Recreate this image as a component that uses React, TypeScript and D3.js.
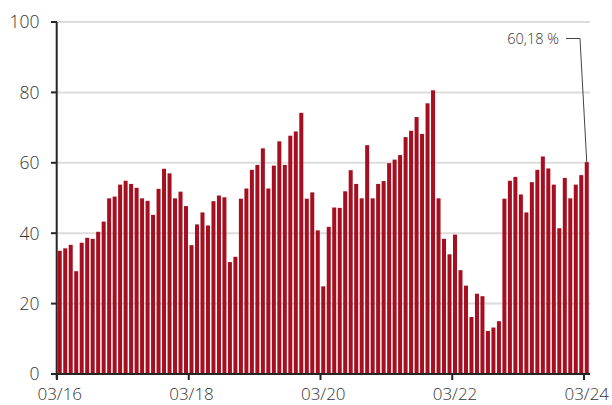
import React from "react";
import * as d3 from "d3";

const months: string[] = d3
  .timeMonth.range(new Date(2016, 2, 1), new Date(2024, 3, 1))
  .map((d) => d3.timeFormat("%m/%y")(d));

const values: number[] = [
  35.0, 35.7, 36.7, 29.2, 37.3, 38.7, 38.4, 40.4, 43.3, 49.9, 50.4, 53.8,
  54.9, 54.0, 52.9, 49.9, 49.2, 45.2, 52.6, 58.3, 57.0, 49.9, 51.8, 47.7,
  36.6, 42.5, 45.9, 42.2, 49.1, 50.7, 50.2, 31.8, 33.3, 49.8, 52.7, 58.0,
  59.4, 64.1, 52.7, 59.2, 66.1, 59.4, 67.7, 68.9, 74.2, 49.8, 51.6, 40.8,
  24.9, 41.8, 47.3, 47.2, 51.9, 57.9, 54.0, 49.9, 65.0, 49.9, 54.0, 54.8,
  59.9, 60.9, 62.2, 67.3, 69.1, 73.0, 68.2, 76.9, 80.6, 49.9, 38.4, 34.0,
  39.6, 29.5, 25.1, 16.2, 22.8, 22.1, 12.2, 13.2, 15.0, 49.8, 54.9, 56.0,
  51.0, 45.9, 54.5, 58.0, 61.8, 58.4, 53.8, 41.4, 55.7, 49.9, 53.8, 56.5,
  60.18,
];

const yTicks: number[] = [0, 20, 40, 60, 80, 100];
const xTickLabels: string[] = ["03/16", "03/18", "03/20", "03/22", "03/24"];
const annotationText = "60,18 %";

export default function App() {
  const W = 612;
  const H = 405;
  const left = 57;
  const right = 589.5;
  const top = 22;
  const bottom = 374;

  const x = d3
    .scaleBand<string>()
    .domain(months)
    .range([left, right])
    .paddingInner(0.27)
    .paddingOuter(0.135);
  const y = d3.scaleLinear().domain([0, 100]).range([bottom, top]);
  const step = x.step();
  const bw = x.bandwidth();
  const stepStart = (m: string) => (x(m) as number) + bw / 2 - step / 2;
  const center = (m: string) => (x(m) as number) + bw / 2;

  const font = "'Open Sans', sans-serif";
  const lastM = months[months.length - 1];
  const lastV = values[values.length - 1];

  return (
    <svg
      width={W}
      height={H}
      style={{ position: "absolute", left: 0, top: 0 }}
      fontFamily={font}
    >
      {yTicks
        .filter((t) => t > 0)
        .map((t) => (
          <line
            key={"g" + t}
            x1={left}
            x2={590}
            y1={y(t)}
            y2={y(t)}
            stroke="#dcdcdc"
            strokeWidth={2}
          />
        ))}
      {values.map((v, i) => (
        <rect
          key={i}
          x={x(months[i])}
          y={y(v)}
          width={bw}
          height={bottom - y(v)}
          fill="#a50f1f"
        />
      ))}
      <line x1={left - 0.3} x2={left - 0.3} y1={top} y2={bottom + 5} stroke="#262626" strokeWidth={2} />
      {yTicks.map((t) => (
        <g key={"y" + t}>
          <line x1={51} x2={left} y1={y(t)} y2={y(t)} stroke="#262626" strokeWidth={2} />
          <text
            x={39.5}
            y={y(t)}
            dy="0.36em"
            textAnchor="end"
            fontSize={17.5}
            fontWeight={300}
            fill="#333"
          >
            {t}
          </text>
        </g>
      ))}
      <line x1={left} x2={590} y1={bottom} y2={bottom} stroke="#262626" strokeWidth={2} />
      {xTickLabels.map((lab) => {
        const m = months.find((mm) => mm === lab) as string;
        return (
          <g key={"x" + lab}>
            <line
              x1={stepStart(m)}
              x2={stepStart(m)}
              y1={bottom}
              y2={bottom + 6}
              stroke="#262626"
              strokeWidth={2}
            />
            <text
              x={center(m)}
              y={400}
              textAnchor="middle"
              fontSize={17}
              fontWeight={300}
              fill="#333"
            >
              {lab}
            </text>
          </g>
        );
      })}
      <text x={559} y={43.5} textAnchor="end" fontSize={14.5} fontWeight={300} fill="#333">
        {annotationText}
      </text>
      <polyline
        points={`566,38.5 580,38.5 ${center(lastM)},${y(lastV)}`}
        fill="none"
        stroke="#444"
        strokeWidth={1}
      />
    </svg>
  );
}
